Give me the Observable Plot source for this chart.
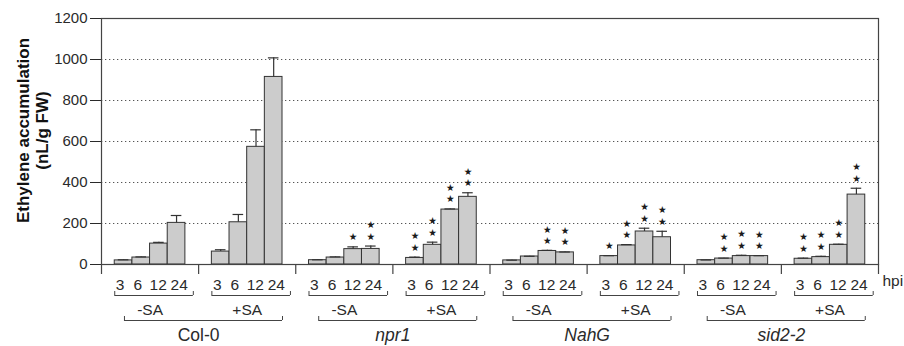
<!DOCTYPE html>
<html>
<head>
<meta charset="utf-8">
<script src="https://cdn.jsdelivr.net/npm/d3@7"></script>
<script src="https://cdn.jsdelivr.net/npm/@observablehq/plot@0.6"></script>
<style>
  html, body { margin: 0; padding: 0; background: #fff; }
  #chart { width: 904px; height: 346px; }
</style>
</head>
<body>
<div id="chart"></div>
<script>
// ---- data ----
const genotypes = ["Col-0", "npr1", "NahG", "sid2-2"];
const genotypeItalic = [false, true, true, true];
const treatments = ["-SA", "+SA"];
const hpiLabels = ["3", "6", "12", "24"];
const yTicks = [0, 200, 400, 600, 800, 1000, 1200];

// means per genotype: -SA 3,6,12,24 then +SA 3,6,12,24
const col0Mean  = [20, 34, 102, 203, 63, 206, 574, 915];
const col0Err   = [3, 3, 6, 36, 9, 38, 83, 93];
const npr1Mean  = [21, 34, 75, 76, 32, 96, 268, 330];
const npr1Err   = [2, 3, 11, 14, 4, 13, 3, 20];
const nahgMean  = [20, 39, 66, 59, 41, 93, 161, 133];
const nahgErr   = [1, 1, 3, 2, 2, 4, 16, 29];
const sid22Mean = [21, 29, 41, 41, 28, 36, 96, 341];
const sid22Err  = [1, 2, 4, 2, 3, 4, 3, 31];
// number of significance stars above each bar
const col0Stars  = [0, 0, 0, 0, 0, 0, 0, 0];
const npr1Stars  = [0, 0, 1, 2, 2, 2, 2, 2];
const nahgStars  = [0, 0, 2, 2, 1, 2, 2, 2];
const sid22Stars = [0, 2, 2, 2, 2, 2, 2, 2];

const means = [col0Mean, npr1Mean, nahgMean, sid22Mean];
const errs = [col0Err, npr1Err, nahgErr, sid22Err];
const stars = [col0Stars, npr1Stars, nahgStars, sid22Stars];

// ---- layout in slot units: each genotype×treatment group is 5.5 bar-widths ----
const GROUP = 5.5, PAD = 0.75;
const labelNudge = [-3.5, -3.5, -0.7, 2.6]; // px nudge of hpi labels, as in the figure
const rows = [];
const groups = [];
genotypes.forEach((g, gi) => {
  treatments.forEach((t, ti) => {
    const gIndex = gi * 2 + ti;
    groups.push({label: t, start: gIndex * GROUP, center: gIndex * GROUP + GROUP / 2});
    hpiLabels.forEach((h, hi) => {
      const k = ti * 4 + hi;
      const left = gIndex * GROUP + PAD + hi;
      rows.push({
        genotype: g, treatment: t, hpi: h, hi,
        mean: means[gi][k], err: errs[gi][k], top: means[gi][k] + errs[gi][k],
        nstars: stars[gi][k],
        x1: left, x2: left + 1, xc: left + 0.5
      });
    });
  });
});
const bounds = d3.range(0, genotypes.length * 2 + 1).map(i => i * GROUP);
const genoRows = genotypes.map((g, gi) => ({
  label: g, italic: genotypeItalic[gi],
  center: gi * 2 * GROUP + GROUP,
  b1: gi * 2 * GROUP + 1.3, b2: gi * 2 * GROUP + 10.25
}));
const saBrackets = groups.map(d => ({b1: d.start + PAD, b2: d.start + 5.2}));
const starRows = [];
rows.forEach(r => { for (let s = 0; s < r.nstars; s++) starRows.push({...r, level: s}); });

const ink = "#2a2a2a";
const font = "Liberation Sans, Arial, Helvetica, sans-serif";

const hpiMarks = hpiLabels.map((h, hi) =>
  Plot.text(rows.filter(d => d.hi === hi), {x: "xc", y: 0, text: "hpi", dy: 21, dx: labelNudge[hi], fontSize: 15.5, fill: ink})
);
const starMarks = [0, 1].map(level =>
  Plot.text(starRows.filter(d => d.level === level), {
    x: "xc", y: "top", text: () => "★", fontFamily: "DejaVu Sans", fontSize: 9.6,
    dy: level === 0 ? -9.6 : -20.9, fill: "#1a1a1a"
  })
);

const chart = Plot.plot({
  width: 904,
  height: 346,
  marginLeft: 101,
  marginRight: 26,
  marginTop: 18,
  marginBottom: 82,
  style: {fontFamily: font, fontSize: "15px", color: ink, background: "#fff", overflow: "visible"},
  x: {domain: [0, genotypes.length * 2 * GROUP], axis: null},
  y: {domain: [0, 1200], ticks: yTicks, tickFormat: d => String(d), tickSize: 11, tickPadding: 3, label: null},
  marks: [
    // dotted gridlines
    Plot.ruleY(yTicks.filter(v => v > 0 && v < 1200), {stroke: "#555", strokeDasharray: "1.3,2.7", strokeWidth: 1}),
    // bars
    Plot.rect(rows, {x1: "x1", x2: "x2", y1: 0, y2: "mean", fill: "#cccccc", stroke: "#333", strokeWidth: 1}),
    // error bars
    Plot.ruleX(rows, {x: "xc", y1: "mean", y2: "top", stroke: "#333", strokeWidth: 1.2}),
    Plot.ruleY(rows, {y: "top", x1: d => d.xc - 0.3, x2: d => d.xc + 0.3, stroke: "#333", strokeWidth: 1.2}),
    // significance stars
    ...starMarks,
    // frame
    Plot.frame({stroke: "#444", strokeWidth: 1.2}),
    // group separator ticks below axis
    Plot.ruleX(bounds, {x: d => d, y1: 0, y2: 0, insetBottom: -10, stroke: "#444", strokeWidth: 1.2}),
    // hpi labels
    ...hpiMarks,
    Plot.text(["hpi"], {frameAnchor: "bottom-right", text: d => d, dx: 4, dy: 21, textAnchor: "start", fontSize: 15.5, fill: ink}),
    // treatment brackets
    Plot.ruleY(saBrackets, {y: 0, x1: "b1", x2: "b2", dy: 31, stroke: "#444"}),
    Plot.ruleX(saBrackets, {x: "b1", y1: 0, y2: 0, dy: 27, insetBottom: -4, stroke: "#444"}),
    Plot.ruleX(saBrackets, {x: "b2", y1: 0, y2: 0, dy: 27, insetBottom: -4, stroke: "#444"}),
    Plot.text(groups, {x: "center", y: 0, text: "label", dy: 46, fontSize: 15.5, fill: ink}),
    // genotype brackets
    Plot.ruleY(genoRows, {y: 0, x1: "b1", x2: "b2", dy: 56, stroke: "#444"}),
    Plot.ruleX(genoRows, {x: "b1", y1: 0, y2: 0, dy: 52, insetBottom: -4, stroke: "#444"}),
    Plot.ruleX(genoRows, {x: "b2", y1: 0, y2: 0, dy: 52, insetBottom: -4, stroke: "#444"}),
    Plot.text(genoRows.filter(d => !d.italic), {x: "center", y: 0, text: "label", dy: 71, fontSize: 17.5, fill: ink}),
    Plot.text(genoRows.filter(d => d.italic), {x: "center", y: 0, text: "label", dy: 71, fontSize: 17.5, fontStyle: "italic", fill: ink}),
    // y axis title
    Plot.text(["Ethylene accumulation\n(nL/g FW)"], {
      frameAnchor: "left", text: d => d, rotate: -90, dx: -69, dy: -11,
      textAnchor: "middle", lineAnchor: "middle",
      fontSize: 17, fontWeight: "bold", lineHeight: 1.12, fill: "#111"
    })
  ]
});
document.getElementById("chart").appendChild(chart);
</script>
</body>
</html>
